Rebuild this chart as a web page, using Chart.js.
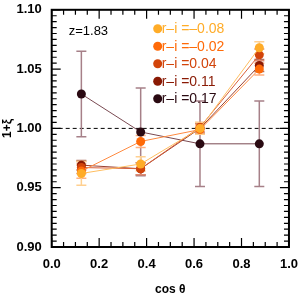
<!DOCTYPE html>
<html>
<head>
<meta charset="utf-8">
<script src="https://cdn.jsdelivr.net/npm/chart.js@4"></script>
<style>
  body { margin: 0; background: #fff; }
  #wrap { width: 300px; height: 299px; }
</style>
</head>
<body>
<div id="wrap"><canvas id="xiChart"></canvas></div>
<script>
const cosTheta = [0.125, 0.375, 0.625, 0.875];

const seriesLabels = ["r\u2013i =\u20130.08", "r\u2013i =\u20130.02", "r\u2013i =0.04", "r\u2013i =0.11", "r\u2013i =0.17"];
const seriesColors = ["#ffac28", "#ff6a08", "#d2440a", "#8a1a04", "#2a0a12"];
const lineColors = ["#ffbe60", "#ff8a40", "#d8603a", "#9a4030", "#7a4a52"];
const errColors = ["#ffd090", "#ffb080", "#e08a70", "#b07060", "#a68088"];

const xiM008 = [0.962, 0.970, 1.000, 1.068];
const xiM002 = [0.964, 0.989, 0.999, 1.050];
const xiP004 = [0.967, 0.966, 1.001, 1.062];
const xiP011 = [0.969, 0.966, 1.000, 1.053];
const xiP017 = [1.029, 0.997, 0.987, 0.987];

const errM008 = [0.010, 0.006, 0.005, 0.005];
const errM002 = [0.006, 0.005, 0.004, 0.005];
const errP004 = [0.005, 0.005, 0.004, 0.005];
const errP011 = [0.004, 0.005, 0.004, 0.005];
const errP017 = [0.036, 0.037, 0.036, 0.036];

const allValues = [xiM008, xiM002, xiP004, xiP011, xiP017];
const allErrors = [errM008, errM002, errP004, errP011, errP017];

const xTickLabels = ["0.0", "0.2", "0.4", "0.6", "0.8", "1.0"];
const yTickLabels = ["0.90", "0.95", "1.00", "1.05", "1.10"];

const datasets = allValues.map((vals, i) => ({
    label: seriesLabels[i],
    data: vals.map((v, j) => ({ x: cosTheta[j], y: v })),
    borderColor: lineColors[i],
    backgroundColor: seriesColors[i],
    borderWidth: 1,
    pointRadius: 4.5,
    pointBorderWidth: 0,
    errors: allErrors[i]
}));

// error bars, frame with inward ticks, dashed unity line, legend and label
const decorations = {
    id: "decorations",
    beforeDatasetsDraw(chart) {
        const ctx = chart.ctx;
        const xs = chart.scales.x, ys = chart.scales.y;
        const a = chart.chartArea;
        ctx.save();
        ctx.strokeStyle = "#000";
        ctx.lineWidth = 1;
        ctx.setLineDash([4, 3]);
        ctx.beginPath();
        ctx.moveTo(a.left, ys.getPixelForValue(1));
        ctx.lineTo(a.right, ys.getPixelForValue(1));
        ctx.stroke();
        ctx.setLineDash([]);

        for (let i = chart.data.datasets.length - 1; i >= 0; i--) {
            const ds = chart.data.datasets[i];
            ctx.strokeStyle = errColors[i];
            ctx.lineWidth = 1.5;
            ds.data.forEach((p, j) => {
                const px = xs.getPixelForValue(p.x);
                const top = ys.getPixelForValue(p.y + ds.errors[j]);
                const bot = ys.getPixelForValue(p.y - ds.errors[j]);
                ctx.beginPath();
                ctx.moveTo(px, top); ctx.lineTo(px, bot);
                ctx.moveTo(px - 5, top); ctx.lineTo(px + 5, top);
                ctx.moveTo(px - 5, bot); ctx.lineTo(px + 5, bot);
                ctx.stroke();
            });
        }
        ctx.restore();
    },
    afterDraw(chart) {
        const ctx = chart.ctx;
        const xs = chart.scales.x, ys = chart.scales.y;
        const a = chart.chartArea;
        ctx.save();
        ctx.strokeStyle = "#000";
        ctx.lineWidth = 1.2;
        ctx.beginPath();
        for (let k = 0; k <= 20; k++) {
            const v = k * 0.05;
            const px = xs.getPixelForValue(v);
            const len = k % 4 === 0 ? 9 : 5;
            ctx.moveTo(px, a.bottom); ctx.lineTo(px, a.bottom - len);
            ctx.moveTo(px, a.top); ctx.lineTo(px, a.top + len);
        }
        for (let k = 0; k <= 40; k++) {
            const v = 0.9 + k * 0.005;
            const py = ys.getPixelForValue(v);
            const len = k % 10 === 0 ? 9 : 5;
            ctx.moveTo(a.left, py); ctx.lineTo(a.left + len, py);
            ctx.moveTo(a.right, py); ctx.lineTo(a.right - len, py);
        }
        ctx.stroke();
        ctx.lineWidth = 2;
        ctx.strokeRect(a.left, a.top, a.right - a.left, a.bottom - a.top);

        ctx.font = "13px 'Liberation Sans', Arial, sans-serif";
        ctx.fillStyle = "#000";
        ctx.textBaseline = "middle";
        ctx.textAlign = "left";
        ctx.fillText("z=1.83", a.left + 17, a.top + 22);

        ctx.font = "14px 'Liberation Sans', Arial, sans-serif";
        seriesLabels.forEach((lab, i) => {
            const y = a.top + 19 + i * 17.5;
            const x = a.left + 106;
            ctx.fillStyle = seriesColors[i];
            ctx.beginPath();
            ctx.arc(x, y, 4.5, 0, Math.PI * 2);
            ctx.fill();
            ctx.fillText(lab, x + 4, y + 0.5);
        });
        ctx.restore();
    }
};

new Chart(document.getElementById("xiChart"), {
    type: "line",
    data: { datasets: datasets },
    options: {
        responsive: true,
        maintainAspectRatio: false,
        animation: false,
        layout: { padding: { top: 5, right: 9, left: 0, bottom: 2 } },
        plugins: { legend: { display: false }, tooltip: { enabled: false } },
        scales: {
            x: {
                type: "linear",
                min: 0, max: 1,
                grid: { display: false },
                border: { display: false },
                ticks: {
                    stepSize: 0.2,
                    color: "#000",
                    padding: 2,
                    font: { family: "'Liberation Sans', Arial, sans-serif", size: 13, weight: "bold" },
                    callback: (v, i) => xTickLabels[i]
                },
                title: {
                    display: true,
                    text: "cos \u03b8",
                    color: "#000",
                    padding: { top: 8, bottom: 0 },
                    font: { family: "'Liberation Sans', Arial, sans-serif", size: 12, weight: "bold" }
                }
            },
            y: {
                min: 0.9, max: 1.1,
                grid: { display: false },
                border: { display: false },
                ticks: {
                    stepSize: 0.05,
                    color: "#000",
                    padding: 2,
                    font: { family: "'Liberation Sans', Arial, sans-serif", size: 13, weight: "bold" },
                    callback: (v, i) => yTickLabels[i]
                },
                title: {
                    display: true,
                    text: "1+\u03be",
                    color: "#000",
                    padding: { top: 0, bottom: 0 },
                    font: { family: "'Liberation Sans', Arial, sans-serif", size: 12, weight: "bold" }
                }
            }
        }
    },
    plugins: [decorations]
});
</script>
</body>
</html>
